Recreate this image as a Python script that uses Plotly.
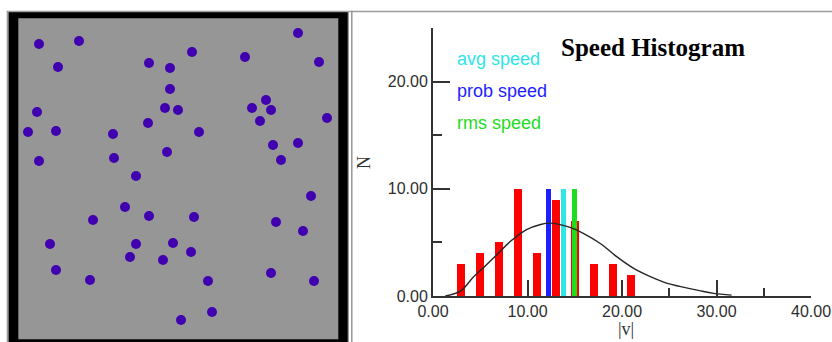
import plotly.graph_objects as go

W, H = 832, 342

# ---------------- data ----------------
# particle positions in the box (pixel-like box coordinates)
particle_x = [39, 79, 298, 58, 149, 170, 192, 245, 319, 170, 37, 165, 178, 266, 252,
              271, 260, 327, 148, 28, 56, 113, 199, 273, 298, 39, 114, 167, 281, 136,
              311, 125, 93, 149, 194, 276, 303, 50, 136, 173, 130, 191, 163, 56, 90,
              208, 271, 314, 212, 181]
particle_y = [44, 41, 33, 67, 63, 68, 52, 57, 62, 89, 112, 108, 110, 100, 108,
              110, 121, 118, 123, 132, 131, 134, 132, 145, 143, 161, 158, 152, 160, 176,
              196, 207, 220, 216, 217, 222, 231, 244, 244, 243, 257, 252, 260, 270, 280,
              281, 273, 281, 312, 320]

# speed histogram
bin_centers = [3, 5, 7, 9, 11, 13, 15, 17, 19, 21]
bin_counts = [3, 4, 5, 10, 4, 9, 7, 3, 3, 2]

# characteristic speeds
speed_names = ["avg speed", "prob speed", "rms speed"]
speed_values = [13.8, 12.2, 15.0]
speed_marker_height = [10, 10, 10]
speed_colors = ["#2ee6e6", "#1e1eff", "#1edc1e"]

# theoretical distribution curve
curve_v = [1.3, 2.9, 4.3, 5.3, 6.7, 8.2, 9.9, 11.3, 12.4, 14.5, 15.9, 17.7,
           19.4, 21.2, 23.0, 24.7, 26.1, 28.2, 29.7, 31.6]
curve_n = [0.0, 0.45, 1.8, 2.6, 3.8, 5.1, 6.2, 6.65, 6.8, 6.4, 5.85, 4.9,
           3.7, 2.6, 1.8, 1.2, 0.9, 0.5, 0.25, 0.08]

x_major = [0, 10, 20, 30, 40]
x_minor = [25, 35]
y_major = [0, 10, 20]
y_minor = [5, 15, 25]


def fx(px):
    return px / W


def fy(py):
    return 1 - py / H


fig = go.Figure()

fig.add_trace(go.Bar(x=bin_centers, y=bin_counts, width=0.85,
                     marker=dict(color="#ff0000", line=dict(width=0)),
                     xaxis="x", yaxis="y", hoverinfo="skip"))
fig.add_trace(go.Bar(x=speed_values, y=speed_marker_height, width=0.5,
                     marker=dict(color=speed_colors, line=dict(width=0)),
                     xaxis="x", yaxis="y", hoverinfo="skip"))
fig.add_trace(go.Scatter(x=curve_v, y=curve_n, mode="lines",
                         line=dict(color="#262626", width=1.4, shape="spline"),
                         xaxis="x", yaxis="y", hoverinfo="skip"))
fig.add_trace(go.Scatter(x=particle_x, y=particle_y, mode="markers",
                         marker=dict(size=10, color="#4000b0", line=dict(width=0)),
                         xaxis="x2", yaxis="y2", hoverinfo="skip"))

tick_font = dict(family="Liberation Sans, Arial, sans-serif", size=16, color="#2e2e2e")

shapes = [
    dict(type="rect", xref="paper", yref="paper", x0=fx(6.7), x1=fx(349), y0=fy(10.7), y1=fy(346),
         fillcolor="#9c9c9c", line=dict(width=0), layer="below"),
    dict(type="rect", xref="paper", yref="paper", x0=fx(8.7), x1=fx(347.7), y0=fy(12.3), y1=fy(346),
         fillcolor="#000000", line=dict(width=0), layer="below"),
    dict(type="rect", xref="paper", yref="paper", x0=fx(18.3), x1=fx(338.3), y0=fy(18.3), y1=fy(339.2),
         fillcolor="#969696", line=dict(width=0), layer="below"),
    dict(type="rect", xref="paper", yref="paper", x0=fx(349), x1=fx(832), y0=fy(10.7), y1=fy(12.3),
         fillcolor="#9c9c9c", line=dict(width=0), layer="below"),
    dict(type="rect", xref="paper", yref="paper", x0=fx(351), x1=fx(352.6), y0=fy(10.7), y1=fy(346),
         fillcolor="#9c9c9c", line=dict(width=0), layer="below"),
]

annotations = [
    dict(text="<b>Speed Histogram</b>", x=fx(652.5), y=fy(47), xref="paper", yref="paper",
         xanchor="center", yanchor="middle", showarrow=False,
         font=dict(family="Liberation Serif, Times New Roman, serif", size=25, color="#000000")),
    dict(text="N", x=fx(364), y=fy(163), xref="paper", yref="paper", textangle=-90,
         xanchor="center", yanchor="middle", showarrow=False,
         font=dict(family="Liberation Serif, Times New Roman, serif", size=18, color="#333333")),
    dict(text="|v|", x=fx(626), y=fy(329), xref="paper", yref="paper",
         xanchor="center", yanchor="middle", showarrow=False,
         font=dict(family="Liberation Serif, Times New Roman, serif", size=18, color="#333333")),
]
legend_y = [59, 91, 123]
for name, col, ly in zip(speed_names, speed_colors, legend_y):
    annotations.append(dict(text=name, x=fx(455), y=fy(ly), xref="paper", yref="paper",
                            xanchor="left", yanchor="middle", showarrow=False,
                            font=dict(family="Liberation Sans, Arial, sans-serif", size=18, color=col)))

fig.update_layout(
    width=W, height=H, autosize=False,
    margin=dict(l=0, r=0, t=0, b=0, pad=0, autoexpand=False),
    paper_bgcolor="#ffffff",
    plot_bgcolor="rgba(0,0,0,0)",
    showlegend=False,
    barmode="overlay",
    bargap=0,
    shapes=shapes,
    annotations=annotations,
    xaxis=dict(domain=[fx(433), fx(811)], range=[0, 40], anchor="y", automargin=False,
               showline=True, linecolor="#333333", linewidth=2, mirror=False,
               showgrid=False, zeroline=False,
               ticks="inside", ticklen=16, tickwidth=2, tickcolor="#333333",
               tickmode="array", tickvals=x_major, ticktext=[f"{v:.2f}" for v in x_major],
               tickfont=tick_font,
               minor=dict(tickmode="array", tickvals=x_minor, ticks="inside", ticklen=8,
                          tickwidth=2, tickcolor="#333333", showgrid=False),
               fixedrange=True),
    yaxis=dict(domain=[fy(296), fy(28)], range=[0, 25], anchor="x", automargin=False,
               showline=True, linecolor="#333333", linewidth=2,
               showgrid=False, zeroline=False,
               ticks="inside", ticklen=17, tickwidth=2, tickcolor="#333333",
               tickmode="array", tickvals=y_major, ticktext=[f"{v:.2f}" for v in y_major],
               tickfont=tick_font,
               minor=dict(tickmode="array", tickvals=y_minor, ticks="inside", ticklen=9,
                          tickwidth=2, tickcolor="#333333", showgrid=False),
               fixedrange=True),
    xaxis2=dict(domain=[fx(18.3), fx(338.3)], range=[18.3, 338.3], anchor="y2",
                visible=False, fixedrange=True, automargin=False),
    yaxis2=dict(domain=[fy(339.2), fy(18.3)], range=[339.2, 18.3], anchor="x2",
                visible=False, fixedrange=True, automargin=False),
)

fig.write_html(
    "out.html",
    config=dict(displayModeBar=False, responsive=False),
    post_script="document.documentElement.style.margin='0';document.body.style.margin='0';"
                "document.body.style.padding='0';document.body.style.overflow='hidden';",
)
